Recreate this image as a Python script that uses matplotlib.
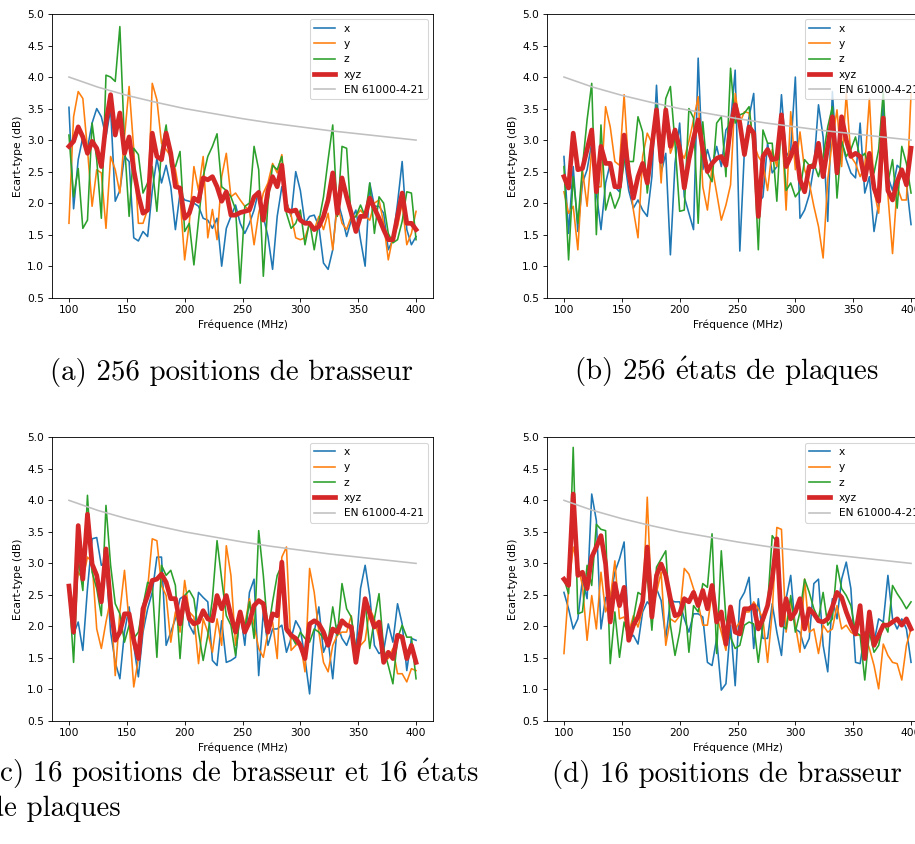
import matplotlib
matplotlib.use("Agg")
import matplotlib.pyplot as plt
import numpy as np

# EN 61000-4-21 limit
en_freq = [100, 125, 150, 175, 200, 225, 250, 275, 300, 325, 350, 375, 400]
en_limit = [4.0, 3.84, 3.71, 3.60, 3.5, 3.42, 3.34, 3.27, 3.21, 3.15, 3.10, 3.05, 3.0]

# (a) 256 positions de brasseur
a_x = [3.52, 1.91, 2.69, 3.05, 2.87, 3.27, 3.5, 3.37, 3.05, 3.5, 2.03, 2.2, 2.74, 2.66, 1.45, 1.4, 1.55, 1.47, 2.2, 2.71,
       2.32, 2.6, 2.26, 1.58, 2.16, 2.05, 2.03, 2.0, 1.95, 1.76, 1.73, 1.6, 1.76, 1.0, 1.6, 1.79, 1.97, 1.68, 1.52,
       1.68, 1.89, 2.2, 1.79, 1.47, 0.95, 1.79, 2.26, 2.03, 1.79, 2.5, 2.2, 1.68, 1.79, 1.81, 1.63, 1.05, 0.95, 1.26,
       2.05, 1.79, 1.47, 1.73, 1.89, 1.42, 1.0, 2.32, 1.95, 1.95, 1.84, 1.26, 1.42, 2.0, 2.66, 1.58, 1.34, 1.47]
a_y = [1.68, 3.37, 3.77, 3.66, 2.85, 1.95, 2.53, 2.48, 1.6, 2.74, 2.53, 2.16, 3.05, 3.85, 2.85, 1.68, 1.68, 1.9, 3.9, 3.64,
       2.95, 2.85, 2.74, 2.53, 2.1, 1.1, 1.68, 2.58, 2.2, 2.74, 1.45, 1.9, 1.42, 2.42, 2.79, 2.1, 2.16, 2.05, 1.95,
       1.89, 1.34, 1.84, 2.16, 2.32, 2.63, 2.48, 2.77, 2.0, 1.81, 1.45, 1.42, 1.45, 1.68, 1.58, 1.79, 1.58, 1.84, 1.26,
       2.0, 1.68, 1.58, 1.79, 1.79, 1.89, 1.79, 1.73, 2.0, 2.05, 1.68, 1.1, 1.47, 1.63, 2.0, 1.34, 1.52, 1.87]
a_z = [3.08, 2.1, 2.55, 1.6, 1.73, 3.27, 2.69, 1.76, 4.03, 4.0, 3.93, 4.8, 2.95, 1.79, 2.87, 2.77, 2.16, 2.32, 2.58, 1.87,
       2.85, 3.24, 2.58, 2.58, 2.82, 1.55, 1.68, 1.02, 1.73, 2.42, 2.74, 2.9, 3.1, 2.26, 2.2, 2.1, 1.9, 0.73, 1.95,
       2.0, 2.9, 2.53, 0.84, 2.0, 2.6, 2.53, 2.74, 1.84, 1.6, 1.68, 1.89, 1.34, 1.71, 1.26, 1.71, 2.1, 2.69, 3.24,
       1.79, 2.9, 2.87, 1.73, 1.79, 1.97, 1.79, 2.32, 1.52, 2.1, 2.0, 1.52, 1.37, 1.42, 1.71, 2.18, 2.16, 1.42]
a_xyz = [2.9, 2.98, 3.21, 3.05, 2.79, 2.98, 2.87, 2.58, 3.27, 3.72, 3.08, 3.43, 2.79, 3.05, 2.53, 2.13, 1.84, 1.89, 3.11,
         2.74, 2.69, 3.11, 2.79, 2.26, 2.24, 1.76, 1.84, 2.08, 2.03, 2.4, 2.37, 2.42, 2.26, 2.03, 2.18, 1.81, 1.81,
         1.85, 1.87, 1.89, 2.1, 2.17, 1.73, 2.2, 2.42, 2.26, 2.6, 1.89, 1.87, 1.89, 1.73, 1.68, 1.68, 1.58, 1.63, 1.79,
         2.05, 2.48, 1.84, 2.4, 2.1, 1.84, 1.55, 1.79, 1.79, 2.08, 1.92, 1.76, 1.58, 1.42, 1.42, 1.79, 2.16, 1.68,
         1.68, 1.58]

# (b) 256 états de plaques
b_x = [2.74, 1.52, 2.58, 1.55, 2.32, 2.53, 2.95, 2.16, 1.58, 2.32, 2.63, 2.26, 2.18, 2.74, 2.2, 1.92, 2.05, 1.89, 1.79,
       2.42, 3.87, 2.48, 2.79, 1.18, 2.63, 3.27, 2.1, 1.84, 1.58, 4.3, 2.53, 2.85, 2.58, 2.9, 2.58, 3.16, 3.27, 4.11,
       1.24, 2.85, 3.37, 3.74, 2.0, 2.1, 2.95, 2.48, 2.58, 3.72, 2.74, 2.85, 4.0, 1.76, 1.89, 2.13, 2.58, 3.56, 3.05,
       1.71, 3.77, 2.63, 2.98, 2.69, 2.48, 2.4, 3.27, 2.16, 2.42, 1.55, 2.0, 3.64, 2.42, 2.2, 2.6, 2.53, 2.32, 1.66]
b_y = [2.18, 1.84, 1.95, 1.26, 2.53, 1.95, 2.87, 2.26, 2.26, 3.53, 3.21, 2.66, 2.6, 3.72, 2.53, 1.89, 1.45, 2.74, 3.11,
       2.95, 3.43, 2.32, 3.48, 2.79, 3.0, 2.85, 2.71, 2.98, 3.32, 3.69, 2.26, 1.89, 2.58, 2.16, 1.73, 1.97, 2.29, 3.74,
       3.27, 3.45, 3.43, 2.95, 2.74, 2.63, 2.2, 2.85, 2.58, 3.32, 1.89, 3.45, 2.53, 3.13, 2.53, 2.32, 1.95, 1.63, 1.13,
       2.37, 3.0, 3.48, 2.58, 3.74, 2.74, 2.63, 2.42, 2.58, 3.66, 2.2, 1.84, 2.87, 2.13, 1.2, 2.26, 2.05, 2.05, 3.74]
b_z = [2.58, 1.1, 2.42, 1.68, 2.58, 3.32, 3.9, 1.5, 3.24, 1.89, 2.17, 1.92, 2.1, 2.66, 2.66, 2.66, 3.37, 3.13, 2.16, 2.74,
       3.56, 2.66, 3.66, 3.85, 2.95, 1.87, 1.89, 3.5, 3.35, 1.68, 3.29, 2.48, 2.34, 3.27, 3.37, 2.42, 4.14, 3.27, 3.4,
       3.43, 3.53, 2.87, 1.26, 3.16, 2.95, 2.95, 2.03, 3.35, 2.2, 2.32, 2.1, 2.2, 2.69, 2.6, 2.63, 2.42, 2.74, 3.21,
       3.53, 2.08, 2.98, 2.74, 2.85, 3.05, 2.71, 2.79, 2.55, 2.48, 2.85, 3.77, 2.32, 2.69, 1.92, 2.9, 2.63, 2.16]
b_xyz = [2.42, 2.24, 3.11, 2.53, 2.55, 2.85, 3.16, 2.18, 2.9, 2.63, 2.63, 2.26, 2.26, 3.08, 2.48, 2.08, 2.42, 2.63, 2.32,
         2.9, 3.48, 2.66, 3.48, 2.9, 3.16, 2.87, 2.24, 2.69, 3.03, 3.32, 2.85, 2.5, 2.63, 2.71, 2.74, 2.6, 3.21, 3.56,
         3.27, 2.77, 3.21, 3.11, 1.79, 2.74, 2.85, 2.69, 2.71, 3.4, 2.58, 2.74, 2.95, 2.37, 2.18, 2.58, 2.58, 2.95,
         2.42, 2.9, 3.37, 2.48, 3.37, 3.0, 2.74, 2.79, 2.74, 2.37, 2.79, 2.24, 2.03, 3.35, 2.2, 2.05, 2.34, 2.53, 2.29,
         2.87]

# (c) 16 positions de brasseur et 16 états de plaques
c_x = [2.65, 1.88, 2.07, 1.62, 2.6, 3.39, 3.41, 2.97, 3.02, 1.91, 1.43, 1.17, 1.91, 2.31, 1.7, 1.2, 1.91, 2.28, 2.54, 3.1,
       3.1, 1.7, 1.91, 2.12, 2.44, 2.49, 2.02, 1.88, 2.54, 2.46, 2.39, 1.46, 1.38, 2.09, 1.43, 1.46, 1.51, 2.23, 1.7,
       2.54, 2.75, 1.22, 2.23, 1.7, 1.96, 1.96, 2.02, 1.59, 1.81, 2.09, 1.96, 1.49, 0.93, 1.91, 2.31, 1.59, 1.78, 1.17,
       2.02, 1.81, 1.7, 1.91, 1.59, 2.6, 2.97, 2.49, 1.7, 1.57, 1.62, 2.04, 1.75, 2.36, 2.04, 1.3, 1.81, 1.78]
c_y = [2.65, 2.33, 2.86, 2.75, 3.1, 3.02, 1.96, 1.65, 2.07, 2.44, 1.22, 2.23, 2.89, 2.07, 1.04, 1.49, 1.96, 2.6, 3.39,
       3.36, 2.65, 2.49, 1.75, 2.23, 1.91, 2.73, 2.23, 2.15, 1.41, 2.12, 1.91, 1.59, 2.12, 1.7, 3.28, 2.81, 1.7, 2.17,
       2.02, 2.44, 2.02, 1.65, 1.51, 1.91, 2.07, 1.49, 3.1, 3.26, 1.62, 1.7, 1.75, 1.28, 2.92, 2.54, 1.91, 1.43, 1.28,
       1.7, 1.86, 1.91, 1.91, 2.17, 1.57, 1.7, 1.78, 2.28, 2.12, 1.81, 1.54, 1.49, 1.65, 1.25, 1.25, 1.12, 1.33, 1.3]
c_z = [2.6, 1.43, 3.07, 2.57, 4.08, 2.86, 2.6, 2.17, 3.92, 2.97, 2.36, 2.2, 1.75, 2.02, 1.81, 1.91, 2.33, 2.7, 2.65, 1.51,
       2.97, 2.81, 2.89, 2.65, 1.49, 2.49, 2.57, 2.44, 1.91, 1.46, 1.86, 2.44, 3.36, 2.75, 2.17, 2.02, 1.54, 2.23, 1.96,
       2.39, 1.81, 3.52, 2.81, 1.91, 2.39, 2.81, 2.97, 1.91, 1.86, 1.72, 1.91, 1.81, 1.75, 1.96, 1.91, 1.81, 1.75, 2.31,
       1.86, 2.68, 2.28, 2.15, 1.65, 1.81, 2.39, 1.65, 2.12, 2.52, 1.65, 1.38, 1.09, 1.81, 2.02, 1.83, 1.83, 1.17]
c_xyz = [2.64, 1.91, 3.6, 2.75, 3.78, 2.99, 2.81, 2.39, 3.23, 2.33, 1.78, 1.91, 2.2, 2.2, 1.78, 1.49, 2.28, 2.49, 2.73,
         2.75, 2.83, 2.7, 2.44, 2.44, 2.04, 2.46, 2.12, 2.04, 2.07, 2.25, 2.12, 2.09, 2.49, 2.28, 2.49, 2.17, 1.91, 2.23,
         1.91, 2.07, 2.33, 2.41, 2.36, 1.91, 2.2, 2.17, 3.02, 1.96, 1.86, 1.81, 1.7, 1.49, 2.04, 2.09, 2.04, 1.91, 1.7,
         1.96, 1.91, 2.09, 2.02, 1.99, 1.43, 1.91, 2.44, 2.2, 1.99, 2.07, 1.43, 1.59, 1.49, 1.86, 1.83, 1.49, 1.7, 1.43]

# (d) 16 positions de brasseur
d_x = [2.54, 2.28, 1.96, 2.12, 2.75, 2.44, 4.1, 3.68, 1.96, 2.46, 2.44, 2.86, 3.07, 3.34, 1.81, 1.86, 1.72, 2.23, 2.39,
       2.31, 2.6, 2.41, 1.81, 2.41, 2.39, 2.39, 2.12, 1.91, 2.2, 2.2, 2.15, 1.43, 1.38, 1.81, 0.99, 1.09, 2.02, 1.06,
       2.41, 2.54, 2.78, 1.65, 2.44, 1.81, 1.81, 2.36, 1.91, 1.54, 2.44, 2.81, 1.96, 1.91, 1.65, 1.81, 2.68, 2.75, 1.7,
       1.28, 2.44, 2.12, 2.75, 3.02, 2.6, 1.43, 1.41, 1.91, 1.91, 1.75, 2.12, 2.07, 2.81, 2.12, 1.96, 2.12, 1.96, 1.43]
d_y = [1.57, 2.6, 3.26, 2.97, 2.65, 1.78, 2.49, 1.96, 2.86, 2.23, 2.44, 3.04, 2.12, 2.15, 1.91, 2.17, 1.99, 2.28, 4.05,
       2.23, 2.54, 2.86, 1.7, 2.12, 2.07, 2.17, 2.92, 2.83, 2.6, 2.36, 2.02, 2.02, 2.54, 2.17, 1.91, 1.62, 2.28, 1.96,
       2.07, 2.23, 2.23, 2.39, 2.28, 2.12, 1.43, 2.23, 3.57, 3.54, 1.91, 2.41, 2.02, 1.59, 2.75, 1.91, 1.96, 1.57, 2.02,
       1.91, 1.96, 2.33, 1.96, 2.02, 1.91, 1.86, 1.86, 1.86, 1.65, 1.38, 1.01, 1.72, 1.54, 1.43, 1.41, 1.15, 1.7, 1.96]
d_z = [2.75, 2.52, 4.84, 2.2, 2.23, 2.97, 2.65, 3.62, 3.54, 3.52, 1.41, 2.23, 1.51, 2.07, 1.81, 2.12, 2.54, 2.49, 2.81,
       1.94, 2.94, 3.07, 3.2, 2.02, 1.54, 1.91, 2.46, 1.59, 2.33, 2.23, 2.68, 2.62, 3.47, 1.57, 3.2, 2.12, 1.83, 1.65,
       1.7, 2.02, 2.07, 2.04, 1.43, 2.04, 2.33, 3.44, 3.34, 2.02, 1.96, 2.49, 1.91, 2.23, 2.75, 2.54, 2.28, 2.12, 2.54,
       2.02, 2.12, 2.97, 2.6, 2.49, 2.33, 1.91, 1.86, 1.15, 1.91, 1.59, 1.7, 2.07, 1.91, 2.65, 2.52, 2.41, 2.28, 2.39]
d_xyz = [2.75, 2.65, 4.1, 2.81, 2.86, 2.6, 3.1, 3.26, 3.44, 2.99, 2.07, 2.68, 2.33, 2.62, 1.78, 2.02, 2.15, 2.39, 3.26,
         2.15, 2.81, 2.99, 2.81, 2.44, 2.17, 2.2, 2.44, 2.39, 2.54, 2.33, 2.57, 2.28, 2.65, 2.07, 2.23, 1.72, 2.31, 1.91,
         1.88, 2.28, 2.28, 2.33, 1.96, 2.12, 2.33, 2.75, 3.39, 2.02, 2.44, 2.12, 2.23, 2.44, 1.96, 2.28, 2.2, 2.09, 2.07,
         2.12, 2.31, 2.54, 2.46, 2.23, 2.04, 1.88, 2.33, 1.49, 2.23, 1.7, 1.86, 2.02, 2.02, 2.07, 2.12, 2.02, 2.12, 1.96]

# the accented e is typeset with mathtext so it stays in Computer Modern
captions = ["(a) 256 positions de brasseur",
            r"(b) 256 $\acute{\mathrm{e}}$tats de plaques",
            r"(c) 16 positions de brasseur et 16 $\acute{\mathrm{e}}$tats",
            "de plaques",
            "(d) 16 positions de brasseur"]

# everything was shrunk by about this factor in the original document
s = 0.77
plt.rcParams.update({
    'font.size': 10 * s,
    'axes.linewidth': 0.8 * s,
    'xtick.major.size': 3.5 * s, 'ytick.major.size': 3.5 * s,
    'xtick.major.width': 0.8 * s, 'ytick.major.width': 0.8 * s,
    'xtick.major.pad': 3.5 * s, 'ytick.major.pad': 3.5 * s,
    'axes.labelpad': 4 * s,
    'lines.linewidth': 1.5 * s,
    'patch.linewidth': 1.0 * s,
    'mathtext.fontset': 'cm',
})

W, H = 915, 844
fig = plt.figure(figsize=(W / 100, H / 100), dpi=100)


def panel(left, top, series):
    w, h = 381.8, 283.7
    ax = fig.add_axes([left / W, 1 - (top + h) / H, w / W, h / H])
    sx, sy, sz, sxyz = series
    ax.plot(np.linspace(100, 400, len(sx)), sx, color='tab:blue', label='x')
    ax.plot(np.linspace(100, 400, len(sy)), sy, color='tab:orange', label='y')
    ax.plot(np.linspace(100, 400, len(sz)), sz, color='tab:green', label='z')
    ax.plot(np.linspace(100, 400, len(sxyz)), sxyz, color='tab:red', lw=3.4, label='xyz')
    ax.plot(en_freq, en_limit, color='#c0c0c0', label='EN 61000-4-21')
    ax.set_xlim(85, 415)
    ax.set_ylim(0.5, 5.0)
    ax.set_xticks([100, 150, 200, 250, 300, 350, 400])
    ax.set_xlabel('Fréquence (MHz)')
    ax.set_ylabel('Ecart-type (dB)')
    ax.legend(loc='upper right')
    return ax


panel(51.6, 14.0, (a_x, a_y, a_z, a_xyz))
panel(546.6, 14.0, (b_x, b_y, b_z, b_xyz))
panel(51.6, 437.3, (c_x, c_y, c_z, c_xyz))
panel(546.6, 437.3, (d_x, d_y, d_z, d_xyz))

cap = dict(fontsize=20.8, family=['cmr10', 'DejaVu Serif'], va='baseline')
fig.text(231 / W, 1 - 380 / H, captions[0], ha='center', **cap)
fig.text(727 / W, 1 - 380 / H, captions[1], ha='center', **cap)
fig.text(-12 / W, 1 - 782 / H, captions[2], ha='left', **cap)
fig.text(-12 / W, 1 - 816 / H, captions[3], ha='left', **cap)
fig.text(727 / W, 1 - 782 / H, captions[4], ha='center', **cap)

fig.savefig('out.png', dpi=100)
